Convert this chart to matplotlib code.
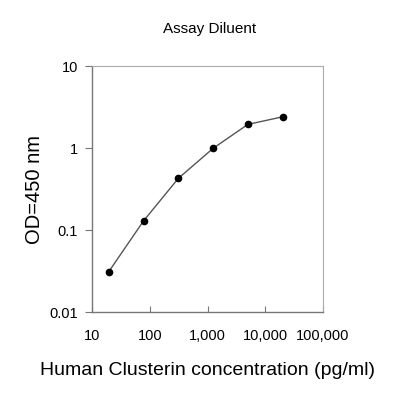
import matplotlib
matplotlib.use("Agg")
import matplotlib.pyplot as plt
from matplotlib.ticker import FixedLocator, FixedFormatter, NullLocator

plt.rcParams["font.family"] = ["Liberation Sans", "DejaVu Sans"]

# standard curve values
conc = [19.5, 78, 312.5, 1250, 5000, 20000]
od = [0.031, 0.129, 0.426, 0.99, 1.94, 2.40]

x_ticks = [10, 100, 1000, 10000, 100000]
x_labels = ["10", "100", "1,000", "10,000", "100,000"]
y_ticks = [0.01, 0.1, 1, 10]
y_labels = ["0.01", "0.1", "1", "10"]

fig = plt.figure(figsize=(4, 4), dpi=100)
ax = fig.add_axes([0.23, 0.22, 0.5775, 0.615])

ax.plot(conc, od, color="#555555", linewidth=1.0, zorder=2)
ax.plot(conc, od, "o", color="black", markersize=4.5, zorder=3)

ax.set_xscale("log")
ax.set_yscale("log")
ax.set_xlim(10, 100000)
ax.set_ylim(0.01, 10)

ax.xaxis.set_major_locator(FixedLocator(x_ticks))
ax.xaxis.set_major_formatter(FixedFormatter(x_labels))
ax.xaxis.set_minor_locator(NullLocator())
ax.yaxis.set_major_locator(FixedLocator(y_ticks))
ax.yaxis.set_major_formatter(FixedFormatter(y_labels))
ax.yaxis.set_minor_locator(NullLocator())

for side in ["left", "bottom"]:
    ax.spines[side].set_color("#777777")
    ax.spines[side].set_linewidth(1.0)
for side in ["top", "right"]:
    ax.spines[side].set_color("#aaaaaa")
    ax.spines[side].set_linewidth(0.8)

ax.tick_params(axis="x", direction="in", length=4, color="#777777", labelsize=10.5, pad=12)
ax.tick_params(axis="y", direction="out", length=5, color="#777777", labelsize=10.5, pad=5)

ax.set_xlabel("Human Clusterin concentration (pg/ml)", fontsize=14, labelpad=14)
ax.set_ylabel("OD=450 nm", fontsize=14.5, labelpad=4)

fig.text(0.525, 0.928, "Assay Diluent", ha="center", va="center", fontsize=11)

fig.savefig("out.png", dpi=100)
